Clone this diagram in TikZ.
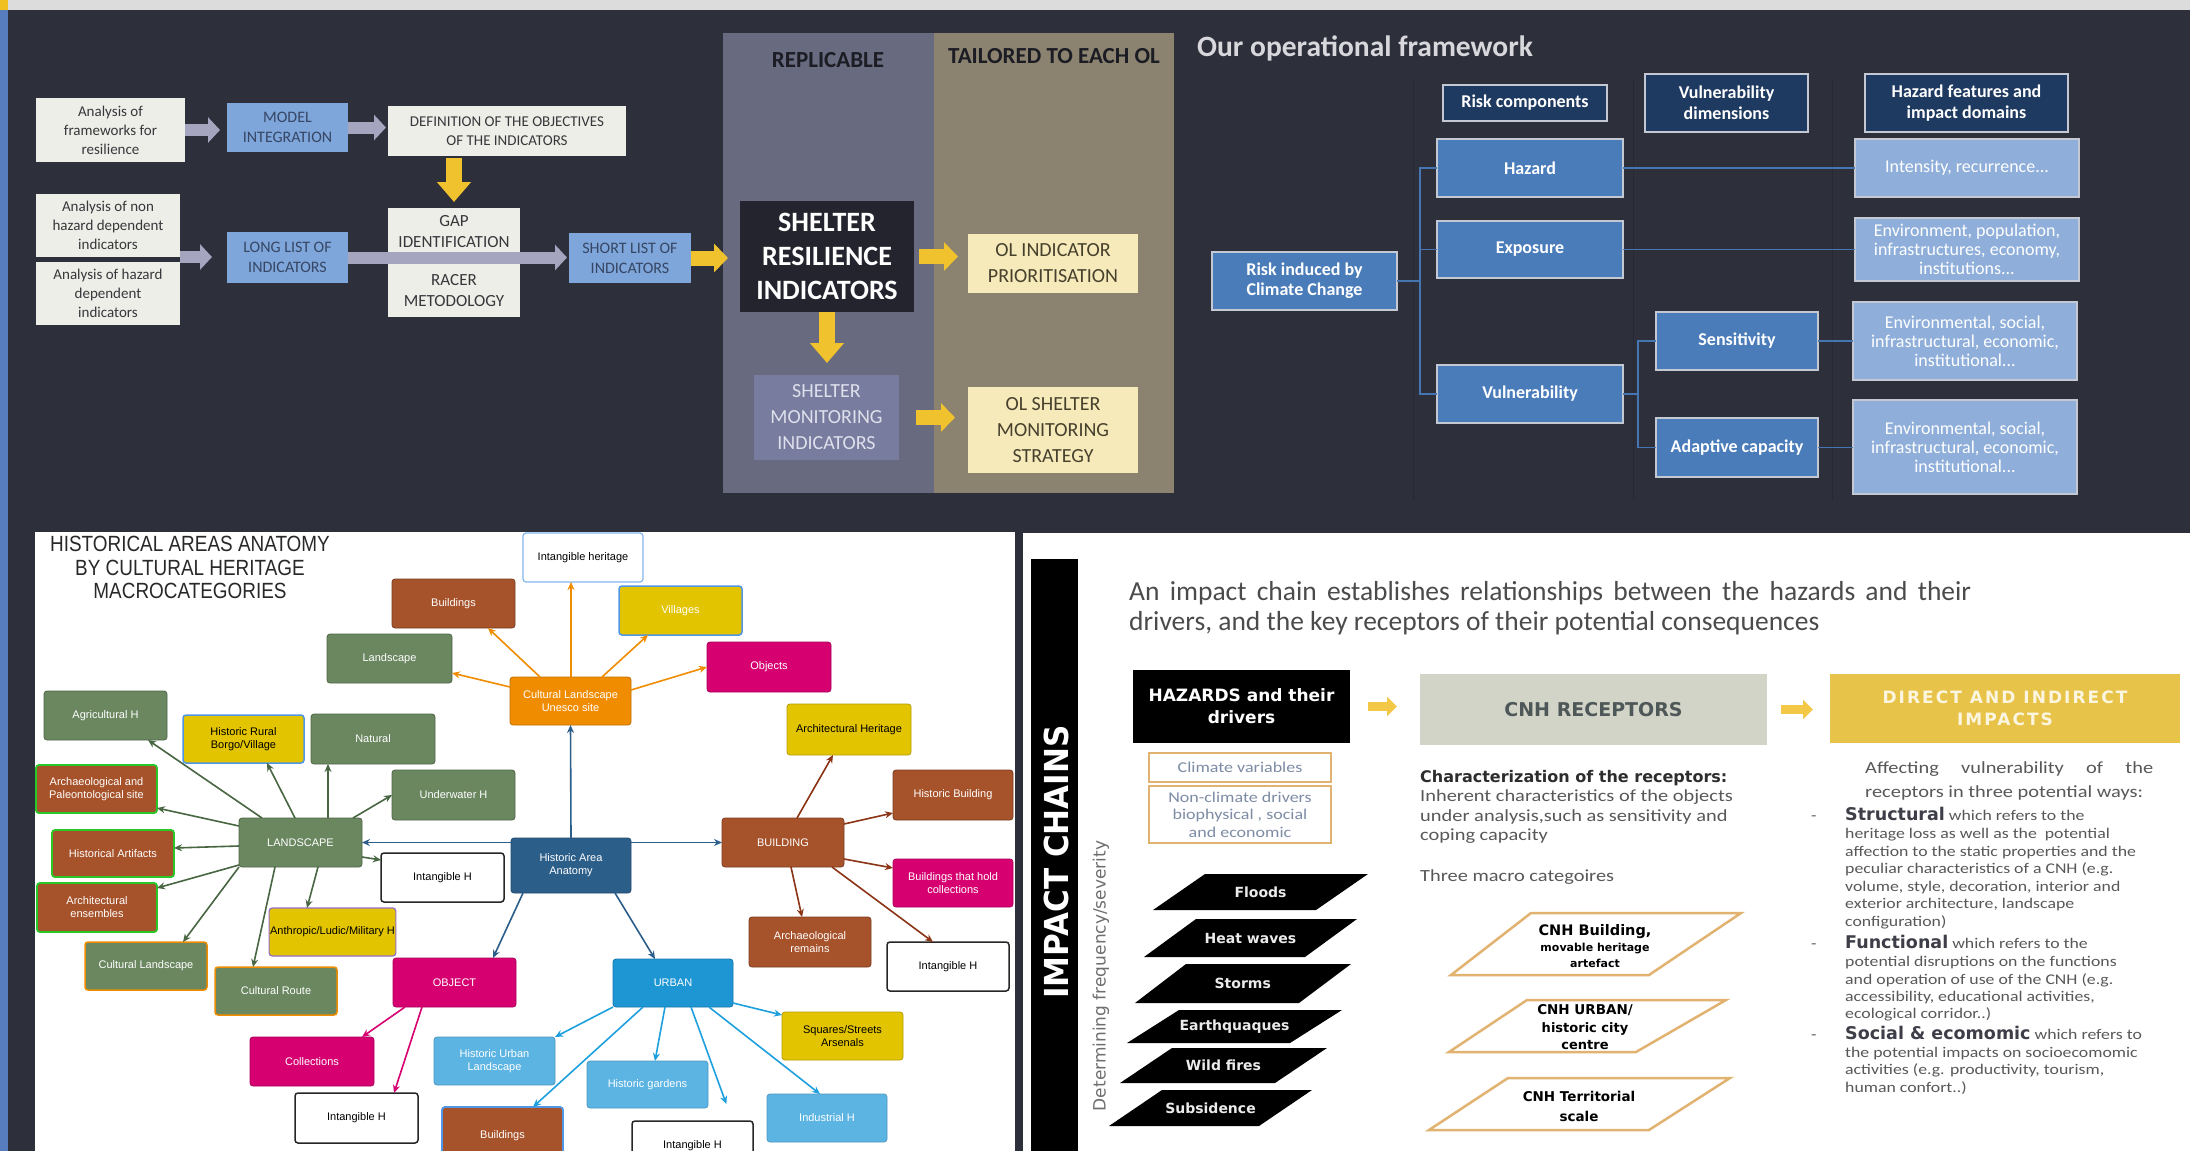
\documentclass[tikz,border=0pt]{standalone}
\usepackage{fontspec}
\setmainfont{Carlito}
\newfontfamily\arialf{Liberation Sans}
\newfontfamily\arialc[FakeStretch=0.86]{Liberation Sans}
\newfontfamily\dejavu{DejaVu Sans}
\newfontfamily\dejavuc[FakeStretch=0.94]{DejaVu Sans}
\newfontfamily\dejavuls[LetterSpace=12]{DejaVu Sans}
\newfontfamily\carw[FakeStretch=1.2]{Carlito}
\usetikzlibrary{arrows.meta}
% colours
\definecolor{bgdark}{RGB}{45,47,59}
\definecolor{topbar}{RGB}{220,220,220}
\definecolor{stripe}{RGB}{88,125,190}
\definecolor{ysq}{RGB}{240,192,32}
\definecolor{lightbox}{RGB}{238,238,232}
\definecolor{tdark}{RGB}{55,55,60}
\definecolor{flowblue}{RGB}{126,166,218}
\definecolor{flowbluetxt}{RGB}{55,70,100}
\definecolor{lav}{RGB}{165,165,192}
\definecolor{yel}{RGB}{240,194,45}
\definecolor{replcol}{RGB}{104,107,128}
\definecolor{tailcol}{RGB}{139,131,112}
\definecolor{sheltercol}{RGB}{35,36,46}
\definecolor{olcol}{RGB}{246,234,187}
\definecolor{oltxt}{RGB}{70,64,45}
\definecolor{shmoncol}{RGB}{120,124,158}
\definecolor{shmontxt}{RGB}{222,224,236}
\definecolor{coltitle}{RGB}{28,28,36}
\definecolor{hdrnavy}{RGB}{31,58,96}
\definecolor{boxedge}{RGB}{196,200,210}
\definecolor{midblue}{RGB}{74,124,186}
\definecolor{paleblue}{RGB}{143,175,218}
\definecolor{conncol}{RGB}{70,118,178}
\definecolor{sepcol}{RGB}{38,40,51}
\definecolor{titlegray}{RGB}{215,215,220}
\definecolor{cbrown}{RGB}{166,82,42}
\definecolor{cgreen}{RGB}{106,135,96}
\definecolor{cyellow}{RGB}{226,196,0}
\definecolor{cmag}{RGB}{214,0,112}
\definecolor{corange}{RGB}{240,140,0}
\definecolor{cdblue}{RGB}{44,94,138}
\definecolor{curban}{RGB}{30,150,212}
\definecolor{clblue}{RGB}{92,180,226}
\definecolor{bgreen}{RGB}{40,200,40}
\definecolor{bblue}{RGB}{80,150,230}
\definecolor{bpurple}{RGB}{150,110,200}
\definecolor{agreen}{RGB}{72,102,66}
\definecolor{abrown}{RGB}{140,52,22}
\definecolor{ablue}{RGB}{44,94,138}
\definecolor{aurban}{RGB}{30,160,222}
\definecolor{blttl}{RGB}{40,40,40}
\definecolor{hdrtxt}{RGB}{75,75,75}
\definecolor{cnhgray}{RGB}{210,212,200}
\definecolor{cnhtxt}{RGB}{78,88,88}
\definecolor{diiyel}{RGB}{232,195,74}
\definecolor{diitxt}{RGB}{252,246,224}
\definecolor{yel2}{RGB}{242,200,70}
\definecolor{orb}{RGB}{226,178,112}
\definecolor{clitxt}{RGB}{125,140,165}
\definecolor{bodytxt}{RGB}{88,88,88}
\definecolor{boldtxt}{RGB}{62,62,72}
\definecolor{chartxt}{RGB}{45,45,45}
\definecolor{detgray}{RGB}{110,110,110}

\newcommand\fsz[2]{\fontsize{#1}{#2}\selectfont}
\newcommand\bwd{\dejavu\bfseries\fsz{17.5}{20}\color{boldtxt}}
\newcommand\mkbox[7]{%
  \pgfmathsetmacro\mkw{#5-#3}%
  \pgfmathsetmacro\mkh{#6-#4}%
  \pgfmathsetmacro\mkx{(#3+#5)/2}%
  \pgfmathsetmacro\mky{(#4+#6)/2}%
  \node[#2,minimum width=\mkw pt,minimum height=\mkh pt] (#1) at (\mkx,\mky) {#7};}
\newcommand\txtline[5]{\node[anchor=base west,inner sep=0pt,#2] (#1) at (#3,#4) {#5};}
\newcommand\txtc[5]{\node[anchor=base,inner sep=0pt,#2] (#1) at (#3,#4) {#5};}
\newcommand\hzpar[8]{%
  \fill[black] (#2,#4) -- (#3,#4) -- (#6,#7) -- (#5,#7) -- cycle;
  \node[hzlabel] (#1) at ({(#2+#3+#5+#6)/4},{(#4+#7)/2}) {#8};}

\begin{document}
\begin{tikzpicture}[x=1pt,y=-1pt,
  base/.style={inner sep=1pt,outer sep=0pt,align=center},
  lbox/.style={base,fill=lightbox,text=tdark,font=\fsz{15}{19}},
  bbox/.style={base,fill=flowblue,text=flowbluetxt,font=\fsz{16}{20}},
  olbox/.style={base,fill=olcol,text=oltxt,font=\fsz{20}{26}},
  larrow/.style={draw=lav,line width=12pt,-{Triangle[length=12pt,width=25pt]}},
  yarrow/.style={draw=yel,line width=15pt,-{Triangle[length=14pt,width=28pt]}},
  yarrowv/.style={draw=yel,line width=16pt,-{Triangle[length=20pt,width=33pt]}},
  hdrbox/.style={base,fill=hdrnavy,draw=boxedge,line width=2pt,text=white,font=\bfseries\fsz{18}{21}},
  mbox/.style={base,fill=midblue,draw=boxedge,line width=2pt,text=white,font=\bfseries\fsz{18}{20}},
  pbox/.style={base,fill=paleblue,draw=boxedge,line width=2pt,text=white,font=\fsz{18}{19}},
  conn/.style={draw=conncol,line width=1.5pt},
  sep/.style={draw=sepcol,line width=1pt},
  blnode/.style={base,rounded corners=3pt,font=\arialf\fsz{11}{13},text=white,line width=0.8pt},
  nbrown/.style={blnode,fill=cbrown,draw=cbrown!75!black},
  ngreen/.style={blnode,fill=cgreen,draw=cgreen!75!black},
  nyellow/.style={blnode,fill=cyellow,draw=cyellow!80!black,text=black},
  nmag/.style={blnode,fill=cmag,draw=cmag!80!black},
  norange/.style={blnode,fill=corange,draw=corange!80!black},
  ndblue/.style={blnode,fill=cdblue,draw=cdblue!80!black},
  nurban/.style={blnode,fill=curban,draw=curban!80!black},
  nlblue/.style={blnode,fill=clblue,draw=clblue!85!black},
  nwhite/.style={blnode,fill=white,draw=black!85,line width=1.5pt,text=black},
  barr/.style={line width=1.6pt,-{Stealth[length=8pt,width=7pt]}},
  orbox/.style={base,fill=white,draw=orb,line width=1.5pt,text=clitxt,font=\carw\fsz{15}{17.5}},
  hzlabel/.style={inner sep=0pt,text=white!92!black,font=\dejavu\bfseries\fsz{14}{16}},
  cnhpar/.style={draw=orb,line width=2.5pt,fill=white},
  ysmall/.style={draw=yel2,line width=9pt,-{Triangle[length=10pt,width=19pt]}},
  body/.style={font=\carw\fsz{14.8}{17},text=bodytxt},
  cnhlab/.style={text=black}
]
\useasboundingbox (0,0) rectangle (2190,1151);
% ---------- background ----------
\fill[bgdark] (0,0) rectangle (2190,1151);
\fill[topbar] (0,0) rectangle (2190,10);
\fill[ysq] (0,0) rectangle (8,10);
\fill[stripe] (0,10) rectangle (8,1151);
\fill[white] (35,532) rectangle (1015,1151);
\fill[white] (1023,533) rectangle (2190,1151);

% ---------- top-left flowchart ----------
\mkbox{colrep}{fill=replcol,inner sep=0pt}{723}{33}{934}{493}{}
\mkbox{coltail}{fill=tailcol,inner sep=0pt}{934}{33}{1174}{493}{}
\txtc{reptitle}{font=\bfseries\fsz{23}{26},text=coltitle}{828}{67}{REPLICABLE}
\txtc{tailtitle}{font=\bfseries\fsz{23}{26},text=coltitle}{1054}{63}{TAILORED TO EACH OL}

\mkbox{anfw}{lbox}{36}{98}{185}{162}{Analysis of\\frameworks for\\resilience}
\mkbox{model}{bbox}{227}{103}{348}{152}{MODEL\\INTEGRATION}
\mkbox{defn}{lbox}{388}{106}{626}{156}{DEFINITION OF THE OBJECTIVES\\OF THE INDICATORS}
\mkbox{gapA}{lbox,font=\fsz{17}{21}}{388}{208}{520}{256}{GAP\\IDENTIFICATION}
\mkbox{gapB}{lbox,font=\fsz{17}{21}}{388}{264}{520}{317}{RACER\\METODOLOGY}
\mkbox{nonhz}{lbox}{36}{194}{180}{257}{Analysis of non\\hazard dependent\\indicators}
\mkbox{hzd0}{lbox}{36}{262}{180}{325}{Analysis of hazard\\dependent\\indicators}
\mkbox{long}{bbox}{227}{232}{348}{283}{LONG LIST OF\\INDICATORS}
\mkbox{short}{bbox}{569}{233}{691}{283}{SHORT LIST OF\\INDICATORS}
\mkbox{shelter}{base,fill=sheltercol,text=white,font=\bfseries\fsz{28}{34}}{740}{201}{914}{312}{SHELTER\\RESILIENCE\\INDICATORS}
\mkbox{olind}{olbox}{968}{234}{1138}{293}{OL INDICATOR\\PRIORITISATION}
\mkbox{shmon}{base,fill=shmoncol,text=shmontxt,font=\fsz{20}{26}}{754}{375}{899}{460}{SHELTER\\MONITORING\\INDICATORS}
\mkbox{olsh}{olbox}{968}{387}{1138}{473}{OL SHELTER\\MONITORING\\STRATEGY}

\draw[larrow,shorten >=7pt] (anfw.east) -- (anfw.east -| model.west);
\draw[larrow,shorten >=2pt] (model.east) -- (model.east -| defn.west);
\draw[larrow,shorten >=15pt] (nonhz.south east) -- (nonhz.south east -| long.west);
\draw[larrow,shorten >=2pt] (long.east) -- (long.east -| short.west);
\draw[yarrowv,shorten <=2pt,shorten >=6pt] (gapA.north |- defn.south) -- (gapA.north);
\draw[yarrow,shorten >=12pt] (short.east) -- (short.east -| shelter.west);
\draw[yarrow,shorten <=5pt,shorten >=10pt] (shelter.east) -- (shelter.east -| olind.west);
\draw[yarrowv,shorten >=12pt] (shelter.south) -- (shelter.south |- shmon.north);
\draw[yarrow,shorten <=17pt,shorten >=13pt] (shmon.east) -- (shmon.east -| olsh.west);

% ---------- top-right framework ----------
\draw[sep] (1413,80) -- (1413,500);
\draw[sep] (1633,80) -- (1633,500);
\draw[sep] (1832,80) -- (1832,500);
\txtline{otitle}{font=\bfseries\fsz{29.5}{33},text=titlegray}{1197}{56}{Our operational framework}
\mkbox{rc}{hdrbox}{1443}{85}{1607}{121}{Risk components}
\mkbox{vd}{hdrbox}{1645}{74}{1808}{132}{Vulnerability\\dimensions}
\mkbox{hf}{hdrbox}{1865}{74}{2068}{132}{Hazard features and\\impact domains}
\mkbox{risk}{mbox}{1212}{252}{1397}{310}{Risk induced by\\Climate Change}
\mkbox{haz}{mbox}{1437}{139}{1623}{197}{Hazard}
\mkbox{expo}{mbox}{1437}{221}{1623}{278}{Exposure}
\mkbox{vul}{mbox}{1437}{365}{1623}{423}{Vulnerability}
\mkbox{sen}{mbox}{1656}{312}{1818}{370}{Sensitivity}
\mkbox{adc}{mbox}{1656}{418}{1818}{477}{Adaptive capacity}
\mkbox{inte}{pbox}{1855}{139}{2079}{197}{Intensity, recurrence...}
\mkbox{envp}{pbox}{1855}{218}{2079}{281}{Environment, population,\\infrastructures, economy,\\institutions...}
\mkbox{envs}{pbox}{1853}{302}{2077}{380}{Environmental, social,\\infrastructural, economic,\\institutional...}
\mkbox{enva}{pbox}{1853}{400}{2077}{494}{Environmental, social,\\infrastructural, economic,\\institutional...}
\coordinate (busA) at (1420,281);
\coordinate (busB) at (1638,394);
\draw[conn] (risk.east) -- (busA);
\draw[conn] (haz.west) -| (busA);
\draw[conn] (expo.west) -| (busA);
\draw[conn] (vul.west) -| (busA);
\draw[conn] (haz.east) -- (haz.east -| inte.west);
\draw[conn] (expo.east) -- (expo.east -| envp.west);
\draw[conn] (vul.east) -- (busB);
\draw[conn] (sen.west) -| (busB);
\draw[conn] (adc.west) -| (busB);
\draw[conn] (sen.east) -- (sen.east -| envs.west);
\draw[conn] (adc.east) -- (adc.east -| enva.west);

% ---------- bottom-left anatomy ----------
\begin{scope}
\clip (35,532) rectangle (1015,1151);
\txtc{blt1}{font=\arialc\fsz{22}{24},text=blttl}{190}{551}{HISTORICAL AREAS ANATOMY}
\txtc{blt2}{font=\arialc\fsz{22}{24},text=blttl}{190}{575}{BY CULTURAL HERITAGE}
\txtc{blt3}{font=\arialc\fsz{22}{24},text=blttl}{190}{598}{MACROCATEGORIES}

\mkbox{intH0}{nwhite,draw=bblue!70!white,line width=1.2pt}{523}{533}{643}{582}{Intangible heritage}
\mkbox{bld0}{nbrown}{392}{579}{515}{628}{Buildings}
\mkbox{vil}{nyellow,draw=bblue,line width=1.5pt,text=white}{619}{586}{742}{635}{Villages}
\mkbox{lsc0}{ngreen}{327}{634}{452}{683}{Landscape}
\mkbox{obj0}{nmag}{707}{642}{831}{692}{Objects}
\mkbox{clu}{norange}{510}{677}{631}{725}{Cultural Landscape\\Unesco site}
\mkbox{agri}{ngreen}{44}{691}{167}{740}{Agricultural H}
\mkbox{rural}{nyellow,draw=bblue,line width=1.5pt}{183}{715}{304}{763}{Historic Rural\\Borgo/Village}
\mkbox{nat}{ngreen}{311}{714}{435}{764}{Natural}
\mkbox{archH}{nyellow}{787}{704}{911}{755}{Architectural Heritage}
\mkbox{paleo}{nbrown,draw=bgreen,line width=1.8pt}{36}{765}{157}{813}{Archaeological and\\Paleontological site}
\mkbox{under}{ngreen}{392}{770}{515}{820}{Underwater H}
\mkbox{histB}{nbrown}{893}{770}{1013}{820}{Historic Building}
\mkbox{artif}{nbrown,draw=bgreen,line width=1.8pt}{52}{830}{174}{877}{Historical Artifacts}
\mkbox{LAND}{ngreen}{239}{818}{362}{867}{LANDSCAPE}
\mkbox{haa}{ndblue}{511}{838}{631}{893}{Historic Area\\Anatomy}
\mkbox{BLD}{nbrown}{722}{818}{844}{867}{BUILDING}
\mkbox{intH1}{nwhite}{381}{853}{504}{902}{Intangible H}
\mkbox{bhc}{nmag}{893}{859}{1013}{907}{Buildings that hold\\collections}
\mkbox{ens}{nbrown,draw=bgreen,line width=1.8pt}{37}{883}{157}{932}{Architectural\\ensembles}
\mkbox{antro}{nyellow,draw=bpurple,line width=1.2pt}{272}{908}{393}{956}{Anthropic/Ludic/Military H}
\mkbox{archR}{nbrown}{749}{917}{871}{967}{Archaeological\\remains}
\mkbox{intH2}{nwhite}{887}{942}{1009}{991}{Intangible H}
\mkbox{cland}{ngreen,draw=corange,line width=1.5pt}{85}{942}{207}{990}{Cultural Landscape}
\mkbox{croute}{ngreen,draw=corange,line width=1.5pt}{215}{967}{337}{1015}{Cultural Route}
\mkbox{OBJ}{nmag}{393}{958}{516}{1007}{OBJECT}
\mkbox{URB}{nurban}{613}{959}{733}{1007}{URBAN}
\mkbox{squ}{nyellow}{782}{1012}{903}{1060}{Squares/Streets\\Arsenals}
\mkbox{coll}{nmag}{250}{1037}{374}{1086}{Collections}
\mkbox{hul}{nlblue}{434}{1037}{555}{1085}{Historic Urban\\Landscape}
\mkbox{gard}{nlblue}{587}{1061}{708}{1108}{Historic gardens}
\mkbox{ind}{nlblue}{767}{1094}{887}{1142}{Industrial H}
\mkbox{intH3}{nwhite}{295}{1093}{418}{1143}{Intangible H}
\mkbox{bld1}{nbrown,draw=bblue,line width=1.8pt}{442}{1107}{563}{1165}{Buildings}
\mkbox{intH4}{nwhite}{632}{1121}{753}{1170}{Intangible H}

% LANDSCAPE arrows
\draw[barr,agreen] ([xshift=-38.5pt]LAND.north) -- ([xshift=42.5pt]agri.south);
\draw[barr,agreen] ([xshift=-5.5pt]LAND.north) -- ([xshift=23.5pt]rural.south);
\draw[barr,agreen] ([xshift=27.5pt]LAND.north) -- ([xshift=-45pt]nat.south);
\draw[barr,agreen] ([xshift=52.5pt]LAND.north) -- (under.west);
\draw[barr,agreen] ([yshift=16.5pt]LAND.west) -- ([yshift=-19pt]paleo.east);
\draw[barr,agreen] ([yshift=-3.5pt]LAND.west) -- ([yshift=5.5pt]artif.east);
\draw[barr,agreen] ([yshift=-22.5pt]LAND.west) -- ([yshift=19.5pt]ens.east);
\draw[barr,agreen] ([xshift=-61.5pt]LAND.south) -- ([xshift=37pt]cland.north);
\draw[barr,agreen] ([xshift=-25.5pt]LAND.south) -- ([xshift=-23pt]croute.north);
\draw[barr,agreen] ([xshift=17.5pt]LAND.south) -- ([xshift=-25.5pt]antro.north);
\draw[barr,agreen] ([yshift=-14.5pt]LAND.east) -- ([yshift=17.5pt]intH1.west);
% Cultural landscape Unesco arrows
\draw[barr,corange] ([xshift=-30.5pt]clu.north) -- ([xshift=34.5pt]bld0.south);
\draw[barr,corange] ([yshift=14pt]clu.west) -- ([yshift=-14.5pt]lsc0.east);
\draw[barr,corange] ([xshift=0.5pt]clu.north) -- ([xshift=-12pt]intH0.south);
\draw[barr,corange] ([xshift=31.5pt]clu.north) -- ([xshift=-32.5pt]vil.south);
\draw[barr,corange] ([yshift=11pt]clu.east) -- (obj0.west);
% Historic area anatomy arrows
\draw[barr,ablue] (haa.north) -- (clu.south);
\draw[barr,ablue] ([yshift=23pt]haa.west) -- (LAND.east);
\draw[barr,ablue] ([yshift=23pt]haa.east) -- (BLD.west);
\draw[barr,ablue] ([xshift=-48pt]haa.south) -- ([xshift=38.5pt]OBJ.north);
\draw[barr,ablue] ([xshift=44pt]haa.south) -- ([xshift=-18pt]URB.north);
% BUILDING arrows
\draw[barr,abrown] ([xshift=14pt]BLD.north) -- ([xshift=-16pt]archH.south);
\draw[barr,abrown] ([yshift=18.5pt]BLD.east) -- ([yshift=-18pt]histB.west);
\draw[barr,abrown] ([yshift=-16.5pt]BLD.east) -- ([yshift=15pt]bhc.west);
\draw[barr,abrown] ([xshift=8pt]BLD.south) -- ([xshift=-8pt]archR.north);
\draw[barr,abrown] ([xshift=49pt]BLD.south) -- ([xshift=-15pt]intH2.north);
% OBJECT arrows
\draw[barr,cmag] ([xshift=-49.5pt]OBJ.south) -- ([xshift=50pt]coll.north);
\draw[barr,cmag] ([xshift=-32.5pt]OBJ.south) -- ([xshift=37.5pt]intH3.north);
% URBAN arrows
\draw[barr,aurban] ([xshift=-60pt]URB.south) -- ([xshift=60.5pt]hul.north);
\draw[barr,aurban] ([xshift=-30pt]URB.south) -- ([xshift=30.5pt]bld1.north);
\draw[barr,aurban] ([xshift=-8pt]URB.south) -- ([xshift=7.5pt]gard.north);
\draw[barr,aurban,shorten >=18pt] ([xshift=18pt]URB.south) -- ([xshift=40pt]intH4.north);
\draw[barr,aurban] ([xshift=36pt]URB.south) -- ([xshift=-7pt]ind.north);
\draw[barr,aurban] ([yshift=-20pt]URB.east) -- ([yshift=21pt]squ.west);
\end{scope}

% ---------- bottom-right impact chains ----------
\mkbox{icbar}{fill=black,inner sep=0pt}{1031}{559}{1078}{1151}{}
\node[rotate=90,inner sep=0pt,text=white,font=\dejavuc\bfseries\fsz{33}{36}] (ictext) at (1056,862) {IMPACT CHAINS};
\node[rotate=90,inner sep=0pt,text=detgray,font=\dejavu\fsz{17}{19}] (detf) at (1101,976) {Determining frequency/severity};

\txtline{hdrA}{font=\fsz{27.5}{32},text=hdrtxt}{1129}{600}{\makebox[842pt][s]{An impact chain establishes relationships between the hazards and their}}
\txtline{hdrB}{font=\fsz{27.5}{32},text=hdrtxt}{1129}{630}{drivers, and the key receptors of their potential consequences}

\mkbox{hzbox}{base,fill=black,text=white,font=\dejavu\bfseries\fsz{17}{22}}{1133}{670}{1350}{743}{HAZARDS and their\\drivers}
\mkbox{cnhr}{base,fill=cnhgray,text=cnhtxt,font=\dejavu\bfseries\fsz{19}{22}}{1420}{674}{1767}{745}{CNH RECEPTORS}
\mkbox{dii}{base,fill=diiyel,text=diitxt,font=\dejavuls\bfseries\fsz{17}{22}}{1830}{674}{2180}{743}{DIRECT AND INDIRECT\\IMPACTS}
\draw[ysmall,shorten <=18pt,shorten >=23pt] (hzbox.east) -- (hzbox.east -| cnhr.west);
\draw[ysmall,shorten <=14pt,shorten >=17pt] (cnhr.east) -- (cnhr.east -| dii.west);

\mkbox{clim}{orbox}{1149}{753}{1331}{782}{Climate variables}
\mkbox{nonc}{orbox}{1149}{786}{1331}{843}{Non-climate drivers\\biophysical , social\\and economic}

\hzpar{floods}{1205}{1368}{874}{1153}{1316}{910}{Floods}
\hzpar{heat}{1196}{1357}{919}{1144}{1305}{957}{Heat waves}
\hzpar{storms}{1186}{1351}{964}{1135}{1299}{1003}{Storms}
\hzpar{earth}{1179}{1342}{1010}{1127}{1290}{1043}{Earthquaques}
\hzpar{wild}{1172}{1327}{1048}{1120}{1275}{1083}{Wild fires}
\hzpar{subs}{1162}{1312}{1090}{1109}{1259}{1126}{Subsidence}

\txtline{chA}{font=\dejavu\bfseries\fsz{16}{18},text=chartxt}{1420}{782}{Characterization of the receptors:}
\txtline{chB}{font=\carw\fsz{17}{20},text=bodytxt}{1420}{801}{Inherent characteristics of the objects}
\txtline{chC}{font=\carw\fsz{17}{20},text=bodytxt}{1420}{821}{under analysis,such as sensitivity and}
\txtline{chD}{font=\carw\fsz{17}{20},text=bodytxt}{1420}{840}{coping capacity}
\txtline{three}{font=\carw\fsz{17}{20},text=bodytxt}{1420}{881}{Three macro categoires}

\draw[cnhpar] (1531,913) -- (1741,913) -- (1649,975) -- (1451,975) -- cycle;
\draw[cnhpar] (1527,1000) -- (1726,1000) -- (1636,1052) -- (1449,1052) -- cycle;
\draw[cnhpar] (1508,1078) -- (1730,1078) -- (1649,1130) -- (1429,1130) -- cycle;
\txtc{cbA}{cnhlab,font=\dejavu\bfseries\fsz{14.5}{17}}{1595}{935}{CNH Building,}
\txtc{cbB}{cnhlab,font=\dejavu\bfseries\fsz{11}{13}}{1595}{951}{movable heritage}
\txtc{cbC}{cnhlab,font=\dejavu\bfseries\fsz{11}{13}}{1595}{967}{artefact}
\txtc{cuA}{cnhlab,font=\dejavu\bfseries\fsz{13.5}{16}}{1585}{1014}{CNH URBAN/}
\txtc{cuB}{cnhlab,font=\dejavu\bfseries\fsz{13}{16}}{1585}{1032}{historic city}
\txtc{cuC}{cnhlab,font=\dejavu\bfseries\fsz{13}{16}}{1585}{1049}{centre}
\txtc{ctA}{cnhlab,font=\dejavu\bfseries\fsz{13.5}{16}}{1579}{1101}{CNH Territorial}
\txtc{ctB}{cnhlab,font=\dejavu\bfseries\fsz{13.5}{16}}{1579}{1121}{scale}

\txtline{affA}{font=\carw\fsz{17}{20},text=bodytxt}{1865}{773}{\makebox[288pt][s]{Affecting vulnerability of the}}
\txtline{affB}{font=\carw\fsz{17}{20},text=bodytxt}{1865}{797}{receptors in three potential ways:}
\txtline{bu1}{body}{1811}{820}{-}
\txtline{bu2}{body}{1811}{948}{-}
\txtline{bu3}{body}{1811}{1039}{-}
\txtline{s0}{body}{1845}{820}{{\bwd Structural} which refers to the}
\txtline{sA}{body}{1845}{838}{heritage loss as well as the\ \ potential}
\txtline{sB}{body}{1845}{856}{affection to the static properties and the}
\txtline{sC}{body}{1845}{873}{peculiar characteristics of a CNH (e.g.}
\txtline{sD}{body}{1845}{891}{volume, style, decoration, interior and}
\txtline{sE}{body}{1845}{908}{exterior architecture, landscape}
\txtline{sF}{body}{1845}{926}{configuration)}
\txtline{f0}{body}{1845}{948}{{\bwd Functional} which refers to the}
\txtline{fA}{body}{1845}{966}{potential disruptions on the functions}
\txtline{fB}{body}{1845}{984}{and operation of use of the CNH (e.g.}
\txtline{fC}{body}{1845}{1001}{accessibility, educational activities,}
\txtline{fD}{body}{1845}{1018}{ecological corridor..)}
\txtline{c0}{body}{1845}{1039}{{\bwd Social \& ecomomic} which refers to}
\txtline{cA}{body}{1845}{1057}{the potential impacts on socioecomomic}
\txtline{cB}{body}{1845}{1074}{activities (e.g. productivity, tourism,}
\txtline{cC}{body}{1845}{1092}{human confort..)}
\end{tikzpicture}
\end{document}
